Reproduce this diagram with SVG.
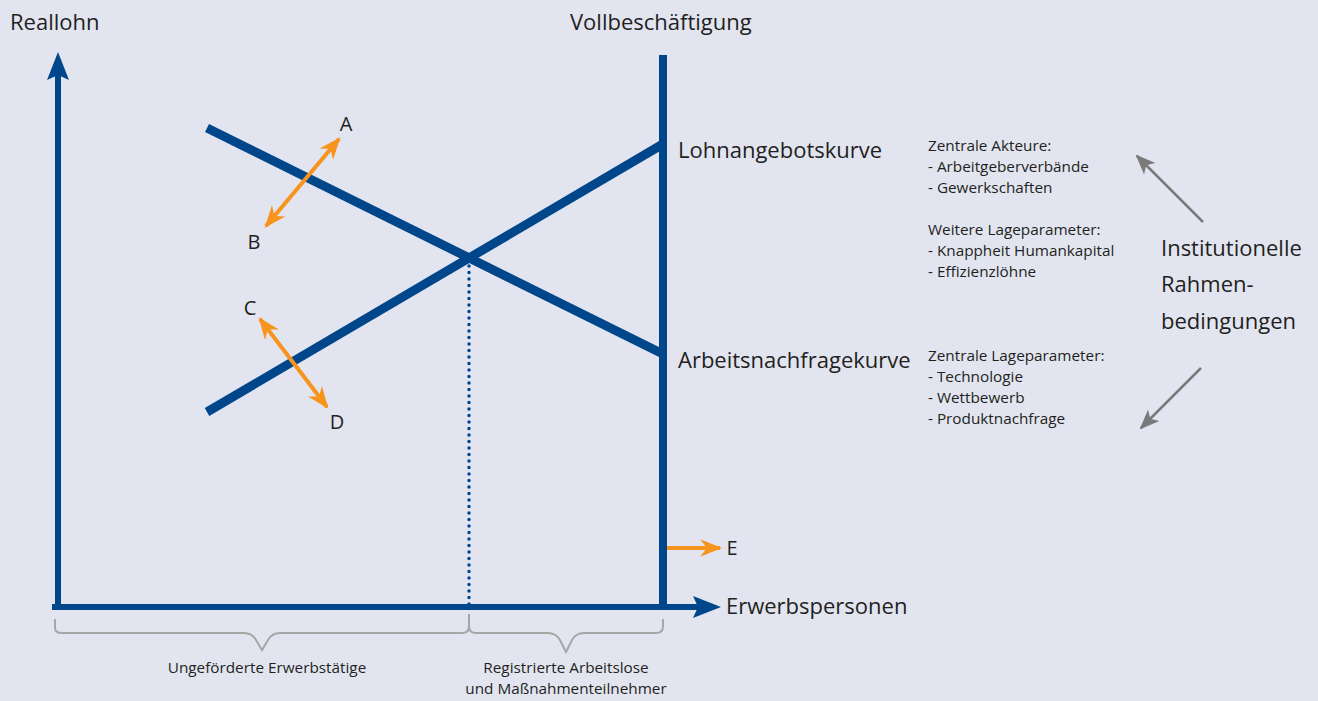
<svg xmlns="http://www.w3.org/2000/svg" width="1318" height="701" viewBox="0 0 1318 701">
<defs>
<style>
.t{font-family:"Open Sans","Noto Sans","Liberation Sans",sans-serif;fill:#231f20}
.big{font-size:22px}
.mid{font-size:20px}
.sm{font-size:15.3px}
.blue{stroke:#00468b;fill:none}
.org{stroke:#f7941d;stroke-width:4;fill:none}
.gry{stroke:#7a7a7a;stroke-width:2.5;fill:none}
.brace{stroke:#a6a6a6;stroke-width:2;fill:none}
</style>
<marker id="ao" viewBox="0 0 10 10" refX="9" refY="5" markerWidth="22" markerHeight="22" orient="auto-start-reverse" markerUnits="userSpaceOnUse">
<path d="M0,1 L10,5 L0,9 L3,5 Z" fill="#f7941d"/>
</marker>
<marker id="ag" viewBox="0 0 10 10" refX="9" refY="5" markerWidth="20" markerHeight="20" orient="auto" markerUnits="userSpaceOnUse">
<path d="M0,1 L10,5 L0,9 L2.5,5 Z" fill="#7a7a7a"/>
</marker>
</defs>
<rect width="1318" height="701" fill="#e2e5f0"/>
<g id="axes">
<line class="blue" x1="58" y1="610" x2="58" y2="75" stroke-width="6"/>
<path d="M58,52 L69,80 L58,75 L47,80 Z" fill="#00468b"/>
<line class="blue" x1="52" y1="607" x2="700" y2="607" stroke-width="6"/>
<path d="M721,607 L693,596 L698,607 L693,618 Z" fill="#00468b"/>
<line class="blue" x1="663" y1="55" x2="663" y2="610" stroke-width="8"/>
</g>
<g id="curves">
<line class="blue" x1="207" y1="412" x2="663" y2="144" stroke-width="9"/>
<line class="blue" x1="207" y1="128" x2="663" y2="354" stroke-width="9"/>
<line class="blue" x1="469" y1="266" x2="469" y2="605" stroke-width="3.5" stroke-linecap="round" stroke-dasharray="0,6.5"/>
</g>
<g id="connectors">
<line class="org" x1="266" y1="226" x2="339" y2="139" marker-start="url(#ao)" marker-end="url(#ao)"/>
<line class="org" x1="260" y1="319" x2="327" y2="407" marker-start="url(#ao)" marker-end="url(#ao)"/>
<line class="org" x1="667" y1="548" x2="720" y2="548" marker-end="url(#ao)"/>
<line class="gry" x1="1203" y1="222" x2="1137" y2="156" marker-end="url(#ag)"/>
<line class="gry" x1="1201" y1="368" x2="1141" y2="428" marker-end="url(#ag)"/>
</g>
<g id="braces">
<path class="brace" d="M55,619 V628 Q55,633 62,633 H244 Q252,633 256,640 L262,650 L268,640 Q272,633 280,633 H462 Q469,633 469,626 V614"/>
<path class="brace" d="M469,614 V626 Q469,633 476,633 H548 Q556,633 560,640 L566,652 L572,640 Q576,633 584,633 H656 Q663,633 663,626 V619"/>
</g>
<g id="labels">
<text class="t big" x="10" y="30">Reallohn</text>
<text class="t big" x="570" y="30">Vollbeschäftigung</text>
<text class="t big" x="678" y="158">Lohnangebotskurve</text>
<text class="t big" x="678" y="368">Arbeitsnachfragekurve</text>
<text class="t big" x="726" y="614">Erwerbspersonen</text>
<text class="t mid" x="346" y="131" text-anchor="middle">A</text>
<text class="t mid" x="254" y="249" text-anchor="middle">B</text>
<text class="t mid" x="250" y="315" text-anchor="middle">C</text>
<text class="t mid" x="337" y="429" text-anchor="middle">D</text>
<text class="t mid" x="732" y="555" text-anchor="middle">E</text>
<text class="t sm" x="928" y="151">Zentrale Akteure:</text>
<text class="t sm" x="928" y="172">- Arbeitgeberverbände</text>
<text class="t sm" x="928" y="193">- Gewerkschaften</text>
<text class="t sm" x="928" y="235">Weitere Lageparameter:</text>
<text class="t sm" x="928" y="256">- Knappheit Humankapital</text>
<text class="t sm" x="928" y="277">- Effizienzlöhne</text>
<text class="t sm" x="928" y="361">Zentrale Lageparameter:</text>
<text class="t sm" x="928" y="382">- Technologie</text>
<text class="t sm" x="928" y="403">- Wettbewerb</text>
<text class="t sm" x="928" y="424">- Produktnachfrage</text>
<text class="t big" x="1161" y="256">Institutionelle</text>
<text class="t big" x="1161" y="292">Rahmen-</text>
<text class="t big" x="1161" y="329">bedingungen</text>
<text class="t sm" x="267" y="673" text-anchor="middle">Ungeförderte Erwerbstätige</text>
<text class="t sm" x="566" y="673" text-anchor="middle">Registrierte Arbeitslose</text>
<text class="t sm" x="566" y="694" text-anchor="middle">und Maßnahmenteilnehmer</text>
</g>
</svg>
